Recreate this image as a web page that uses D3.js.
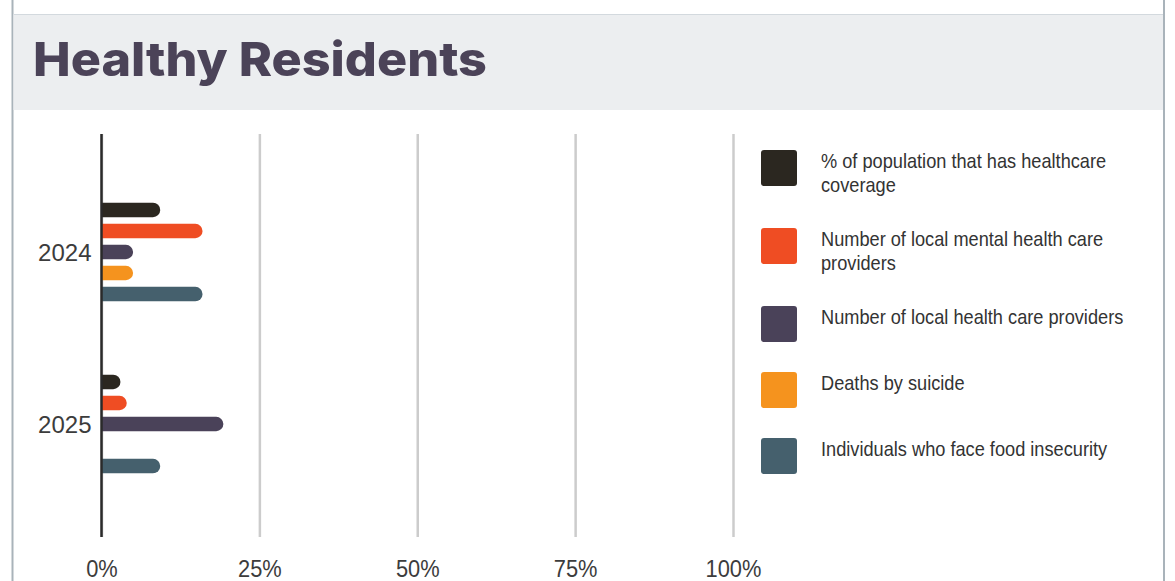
<!DOCTYPE html>
<html>
<head>
<meta charset="utf-8">
<script src="https://cdn.jsdelivr.net/npm/d3@7/dist/d3.min.js"></script>
<style>
  html, body { margin: 0; padding: 0; background: #ffffff; }
  svg { display: block; }
</style>
</head>
<body>
<svg id="chart" width="1175" height="581"></svg>
<script>
// ---- data ----
const title = "Healthy Residents";
const years = ["2024", "2025"];
const seriesNames = [
  "% of population that has healthcare coverage",
  "Number of local mental health care providers",
  "Number of local health care providers",
  "Deaths by suicide",
  "Individuals who face food insecurity"
];
const seriesColors = ["#2b2720", "#ef4d23", "#4a4259", "#f5931e", "#45606d"];
const values2024 = [9.3, 16, 5, 5, 16];
const values2025 = [3, 4, 19.3, null, 9.3];
const tickValues = [0, 25, 50, 75, 100];
const tickLabels = ["0%", "25%", "50%", "75%", "100%"];

const valuesByYear = { "2024": values2024, "2025": values2025 };

// ---- layout ----
const W = 1175, H = 581;
const plot = { left: 101.5, right: 733, top: 134, bottom: 537 };
const squeeze = 0.91;           // horizontal squeeze applied to the sans labels
const labelFont = "'Liberation Sans', Arial, sans-serif";

const svg = d3.select("#chart");

// frame and header band
svg.append("line").attr("x1", 12.5).attr("x2", 12.5).attr("y1", 0).attr("y2", H)
  .attr("stroke", "#a9b3ba").attr("stroke-width", 2);
svg.append("line").attr("x1", 1164).attr("x2", 1164).attr("y1", 0).attr("y2", H)
  .attr("stroke", "#a9b3ba").attr("stroke-width", 2);
svg.append("rect").attr("x", 13.5).attr("y", 14).attr("width", 1149.5).attr("height", 96)
  .attr("fill", "#eceef0");
svg.append("line").attr("x1", 13.5).attr("x2", 1163).attr("y1", 14.5).attr("y2", 14.5)
  .attr("stroke", "#d3d9de").attr("stroke-width", 1.2);

const titleText = svg.append("text")
  .attr("x", 33).attr("y", 76)
  .attr("font-family", "Inter, 'Open Sans', sans-serif")
  .attr("font-weight", 800)
  .attr("font-size", 47)
  .attr("fill", "#4b4358")
  .text(title);
titleText.attr("textLength", 454).attr("lengthAdjust", "spacingAndGlyphs");

// ---- scales ----
const x = d3.scaleLinear().domain([0, 100]).range([plot.left, plot.right]);
const y0 = d3.scaleBand().domain(years).range([166, 510]);
const y1 = d3.scaleBand().domain(seriesNames).range([0, y0.bandwidth()])
  .paddingInner(0.31).paddingOuter(1.75);

// ---- gridlines + x axis ----
const xAxis = d3.axisBottom(x)
  .tickValues(tickValues)
  .tickFormat((d, i) => tickLabels[i])
  .tickSizeInner(-(plot.bottom - plot.top))
  .tickSizeOuter(0);

const gx = svg.append("g")
  .attr("transform", `translate(0,${plot.bottom})`)
  .call(xAxis);
gx.select(".domain").remove();
gx.selectAll(".tick line")
  .attr("stroke", "#cccccc")
  .attr("stroke-width", 2.5);
gx.selectAll(".tick text")
  .attr("y", 40).attr("dy", 0)
  .attr("font-family", labelFont)
  .attr("font-size", 24)
  .attr("fill", "#3c3c3c")
  .attr("transform", `scale(${squeeze},1)`);

// ---- bars ----
function barPath(x0, x1, yTop, h) {
  const r = Math.min(h / 2, x1 - x0);
  return `M${x0},${yTop}H${x1 - r}A${r},${r} 0 0 1 ${x1},${yTop + r}` +
         `V${yTop + h - r}A${r},${r} 0 0 1 ${x1 - r},${yTop + h}H${x0}Z`;
}

const groups = svg.append("g").selectAll("g")
  .data(years)
  .join("g")
  .attr("transform", d => `translate(0,${y0(d)})`);

groups.selectAll("path")
  .data(yr => seriesNames.map((name, i) => ({ name, i, v: valuesByYear[yr][i] }))
                         .filter(d => d.v != null && d.v > 0))
  .join("path")
  .attr("fill", d => seriesColors[d.i])
  .attr("d", d => barPath(x(0), x(d.v), y1(d.name), y1.bandwidth()));

// ---- zero axis + year labels ----
svg.append("line")
  .attr("x1", x(0)).attr("x2", x(0))
  .attr("y1", plot.top).attr("y2", plot.bottom)
  .attr("stroke", "#2a2a2a").attr("stroke-width", 2.5);

const yAxis = d3.axisLeft(y0).tickSize(0).tickPadding(10);
const gy = svg.append("g").attr("transform", `translate(${x(0)},0)`).call(yAxis);
gy.select(".domain").remove();
gy.selectAll(".tick text")
  .attr("dy", "0.36em")
  .attr("font-family", labelFont)
  .attr("font-size", 24)
  .attr("fill", "#3c3c3c");

// ---- legend ----
const legend = { x: 761, top: 150, swatch: 36, textX: 821, lineH: 24, gap: 30, maxW: 322 };
const measure = svg.append("text")
  .attr("font-family", labelFont).attr("font-size", 20).attr("visibility", "hidden");
function wrap(str) {
  const words = str.split(" ");
  const lines = [];
  let cur = "";
  for (const w of words) {
    const test = cur ? cur + " " + w : w;
    measure.text(test);
    if (cur && measure.node().getComputedTextLength() * squeeze > legend.maxW) {
      lines.push(cur);
      cur = w;
    } else {
      cur = test;
    }
  }
  if (cur) lines.push(cur);
  return lines;
}

let ly = legend.top;
seriesNames.forEach((name, i) => {
  const lines = wrap(name);
  const g = svg.append("g").attr("transform", `translate(0,${ly})`);
  g.append("rect")
    .attr("x", legend.x).attr("y", 0)
    .attr("width", legend.swatch).attr("height", legend.swatch)
    .attr("rx", 3)
    .attr("fill", seriesColors[i]);
  lines.forEach((ln, k) => {
    g.append("text")
      .attr("transform", `translate(${legend.textX},${18 + k * legend.lineH}) scale(${squeeze},1)`)
      .attr("font-family", labelFont)
      .attr("font-size", 20)
      .attr("fill", "#333333")
      .text(ln);
  });
  ly += Math.max(legend.swatch, lines.length * legend.lineH) + legend.gap;
});
measure.remove();
</script>
</body>
</html>
